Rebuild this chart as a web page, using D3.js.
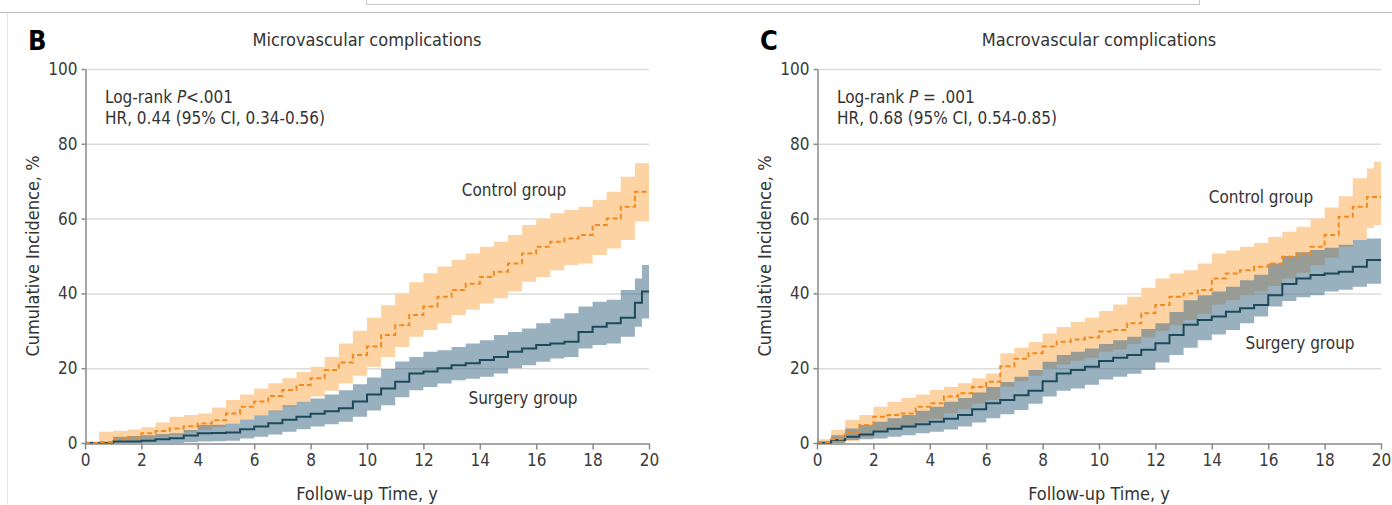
<!DOCTYPE html>
<html><head><meta charset="utf-8">
<script src="https://cdn.jsdelivr.net/npm/d3@7"></script>
<style>
body{margin:0;background:#fff;}
svg text{font-family:"Liberation Sans Narrow","DejaVu Sans Condensed","DejaVu Sans",sans-serif;font-stretch:condensed;}
</style></head>
<body><svg id="c" width="1392" height="505"></svg>
<script>
const times = [0,0.5,1,1.5,2,2.5,3,3.5,4,4.5,5,5.5,6,6.5,7,7.5,8,8.5,9,9.5,10,10.5,11,11.5,12,12.5,13,13.5,14,14.5,15,15.5,16,16.5,17,17.5,18,18.5,19,19.5,19.75,20];
const xTicks = [0,2,4,6,8,10,12,14,16,18,20];
const yTicks = [0,20,40,60,80,100];

// Panel B: Microvascular complications
const bControl   = [0,0.3,1,1.5,2.6,3.2,3.9,4.5,5.2,6.1,7.9,9.7,11.1,12.6,14.2,15.5,17.3,19.5,21.5,23.5,25.8,28.9,31.5,34.2,36.5,39.1,40.9,42.6,44.4,45.8,48,50.7,52.5,53.8,54.7,55.6,58.3,60,63.2,67.2,67.2,67.2];
const bControlLo = [0,0,0.2,0.5,0.8,1.5,2.1,2.8,3.5,4.3,5.2,6.3,7.4,8.5,9.7,11,12.4,14,16,18,20.4,23,25.7,28.4,30.2,32,34.2,35.6,37.3,38.7,40.5,43.1,44.4,46.2,47.6,48,50.3,52,54.3,59.2,59.2,59.2];
const bControlHi = [0.5,3,3.3,3.6,4.2,5.5,7,7.5,7.9,9.5,11.5,13,14.6,16,17.3,19,20.4,23,26.6,30,33.5,36.8,40,43,45.4,47.2,49,50.7,52.5,53.8,55.6,58.3,60,61.4,62.3,63.2,65,67.2,71.2,74.8,74.8,74.8];
const bSurgery   = [0,0,0.4,0.4,0.6,1,1.3,2,2.6,2.7,2.8,3.7,4.4,5.3,6.2,7,7.8,8.5,9.3,11.1,13,14.6,16.4,18.6,19.1,20,20.8,21.3,22.2,23,24.4,25.3,26.2,26.6,27.1,29.7,31.1,32,33.5,37.5,40.5,40.5];
const bSurgeryLo = [0,0,0,0,0,0,0,0.2,0.4,0.5,0.6,1.2,1.7,2.3,3,3.7,4.4,5,5.7,7,8.7,10.1,12.2,14.1,15,15.9,16.8,17.2,17.7,18.6,20,20.8,21.7,22.6,23,25.3,26.2,26.6,28.4,31.1,33.3,33.3];
const bSurgeryHi = [0,0,1.7,1.9,2.1,2.4,2.6,3.5,4.8,4.9,5.2,6.3,7.4,8.7,10.1,11,11.9,13,14.1,15.7,17.5,19.8,21.8,23,24.4,24.8,25.7,26.6,27.5,28.9,29.7,30.6,32,33.3,34.7,36.5,37.8,38.3,40.9,44,47.6,47.6];

// Panel C: Macrovascular complications
const cControl   = [0.3,1,2.8,4.8,7,7.5,7.9,9.7,10.6,12.4,13.3,15,16.4,20.5,22.5,24,25.8,27.1,27.7,28.2,29.8,30.2,32,34.7,36.9,39.1,40,40.9,44,45.3,46.2,47.1,48,49.8,50.7,52.5,55.6,60.5,63.2,65.8,65.8,65.8];
const cControlLo = [0,0,0.5,1.5,3,3.5,4,5.5,6.5,8,9,10.5,11.5,15,16.5,18,20,21,22,22.8,24.4,25,26.5,28.2,30,31.5,32.9,34.5,37,38.2,39.5,40.5,42,44,45.5,47.5,49.5,52.5,54.3,57.5,58.3,58.3];
const cControlHi = [1,3.5,6.2,7.5,9.7,11,12,13,14.2,15,16,17.3,18.6,24,25.5,27,29.3,31,32.4,33.5,35.3,37,39.1,41.5,44,45.3,46.2,48,50.7,51.5,52.5,53.5,55.1,56.5,57.8,60,63,66,70.8,73.4,75.2,75.2];
const cSurgery   = [0,0.8,1.7,2.3,3.1,3.8,4.4,5,5.7,6.5,7.5,9,10.6,11.5,12.8,14,16.5,18.6,19.5,20.4,21.9,22.8,23.5,24.9,26.7,28.9,31.6,32.9,33.8,35.1,36,36.9,39.5,42.5,44,44.9,45.3,45.8,47.1,48.9,48.9,48.9];
const cSurgeryLo = [0,0,0.8,1,1.2,1.7,2.1,2.6,3,3.6,4.4,5.5,6.6,7.7,8.8,10.5,12.4,14,14.6,15.6,17,17.7,18.5,19.5,21.5,23.5,25.5,27.5,29,30.2,32,33.8,36.5,38,39,39.5,40.5,41,41.8,42.6,42.6,42.6];
const cSurgeryHi = [0.5,2.1,3.9,4.8,5.7,6.6,7.5,8.6,9.7,11,12,13.5,15,16.3,17.7,19.5,21.7,23.5,24.4,25.3,26.5,27.5,28.4,30.5,32,35,38.2,39.5,40.5,41.8,43.5,45,48,50,51,51.6,52.2,53,54.3,54.7,54.7,54.7];

const panels = [
  {letter:"B", title:"Microvascular complications", x0:85, lp:"<.001", hr:"HR, 0.44 (95% CI, 0.34-0.56)",
   ctrl:bControl, ctrlLo:bControlLo, ctrlHi:bControlHi, surg:bSurgery, surgLo:bSurgeryLo, surgHi:bSurgeryHi,
   ctrlLab:[514,190], surgLab:[523,398]},
  {letter:"C", title:"Macrovascular complications", x0:817, lp:" = .001", hr:"HR, 0.68 (95% CI, 0.54-0.85)",
   ctrl:cControl, ctrlLo:cControlLo, ctrlHi:cControlHi, surg:cSurgery, surgLo:cSurgeryLo, surgHi:cSurgeryHi,
   ctrlLab:[1261,197], surgLab:[1300,343]}
];

const svg = d3.select("#c");
// top decorations
svg.append("rect").attr("x",366.5).attr("y",-5).attr("width",833).attr("height",9.5).attr("fill","none").attr("stroke","#c8c8c8");
svg.append("line").attr("x1",0).attr("x2",1392).attr("y1",12.5).attr("y2",12.5).attr("stroke","#bdbdbd");
svg.append("line").attr("x1",7.5).attr("x2",7.5).attr("y1",13).attr("y2",505).attr("stroke","#e6e6e6");

const yTop = 69, yBot = 443, W = 564;
panels.forEach(p => {
  const x = d3.scaleLinear().domain([0,20]).range([p.x0, p.x0+W]);
  const y = d3.scaleLinear().domain([0,100]).range([yBot, yTop]);
  const g = svg.append("g");
  // grid
  g.selectAll(".grid").data(yTicks.slice(1)).join("line")
    .attr("x1",p.x0).attr("x2",p.x0+W).attr("y1",d=>y(d)+0.5).attr("y2",d=>y(d)+0.5)
    .attr("stroke","#dcdcdc").attr("stroke-width",1.5);
  // bands
  const area = (lo,hi)=>d3.area().curve(d3.curveStepAfter).x((d,i)=>x(times[i])).y0((d,i)=>y(lo[i])).y1((d,i)=>y(hi[i]))(times);
  const line = (v)=>d3.line().curve(d3.curveStepAfter).x((d,i)=>x(times[i])).y((d,i)=>y(v[i]))(times);
  g.append("path").attr("d",area(p.ctrlLo,p.ctrlHi)).attr("fill","#fed3a3");
  g.append("path").attr("d",area(p.surgLo,p.surgHi)).attr("fill","#46708a").attr("fill-opacity",0.55);
  g.append("path").attr("d",line(p.surg)).attr("fill","none").attr("stroke","#1d4a5a").attr("stroke-width",2);
  g.append("path").attr("d",line(p.ctrl)).attr("fill","none").attr("stroke","#f28a1f").attr("stroke-width",2).attr("stroke-dasharray","5,3");
  // axes
  const xa = g.append("g").attr("transform",`translate(0,${yBot+0.5})`)
    .call(d3.axisBottom(x).tickValues(xTicks).tickSize(6).tickSizeOuter(0).tickPadding(4));
  const ya = g.append("g").attr("transform",`translate(${p.x0+0.5},0)`)
    .call(d3.axisLeft(y).tickValues(yTicks).tickSize(4).tickSizeOuter(0).tickPadding(4));
  [xa,ya].forEach(a=>{
    a.select(".domain").attr("stroke","#8a8a8a").attr("stroke-width",1.5);
    a.selectAll(".tick line").attr("stroke","#8a8a8a").attr("stroke-width",1.5);
    a.selectAll(".tick text").attr("fill","#3a3a3a").attr("font-size",17);
  });
  // texts
  g.append("text").attr("x",p.x0-57).attr("y",50).attr("font-size",27).attr("font-weight","bold").attr("fill","#000").text(p.letter);
  g.append("text").attr("x",p.x0+282).attr("y",46).attr("text-anchor","middle").attr("font-size",18).attr("fill","#333").text(p.title);
  const t1 = g.append("text").attr("x",p.x0+20).attr("y",103).attr("font-size",17).attr("fill","#333");
  t1.append("tspan").text("Log-rank ");
  t1.append("tspan").attr("font-style","italic").text("P");
  t1.append("tspan").text(p.lp);
  g.append("text").attr("x",p.x0+20).attr("y",124).attr("font-size",17).attr("fill","#333").text(p.hr);
  g.append("text").attr("x",p.ctrlLab[0]).attr("y",p.ctrlLab[1]+6).attr("text-anchor","middle").attr("font-size",17).attr("fill","#333").text("Control group");
  g.append("text").attr("x",p.surgLab[0]).attr("y",p.surgLab[1]+6).attr("text-anchor","middle").attr("font-size",17).attr("fill","#333").text("Surgery group");
  g.append("text").attr("x",p.x0+282).attr("y",500).attr("text-anchor","middle").attr("font-size",18).attr("fill","#333").text("Follow-up Time, y");
  g.append("text").attr("transform",`translate(${p.x0-46},${(yTop+yBot)/2}) rotate(-90)`).attr("text-anchor","middle").attr("font-size",18).attr("fill","#333").text("Cumulative Incidence, %");
});
</script></body></html>
